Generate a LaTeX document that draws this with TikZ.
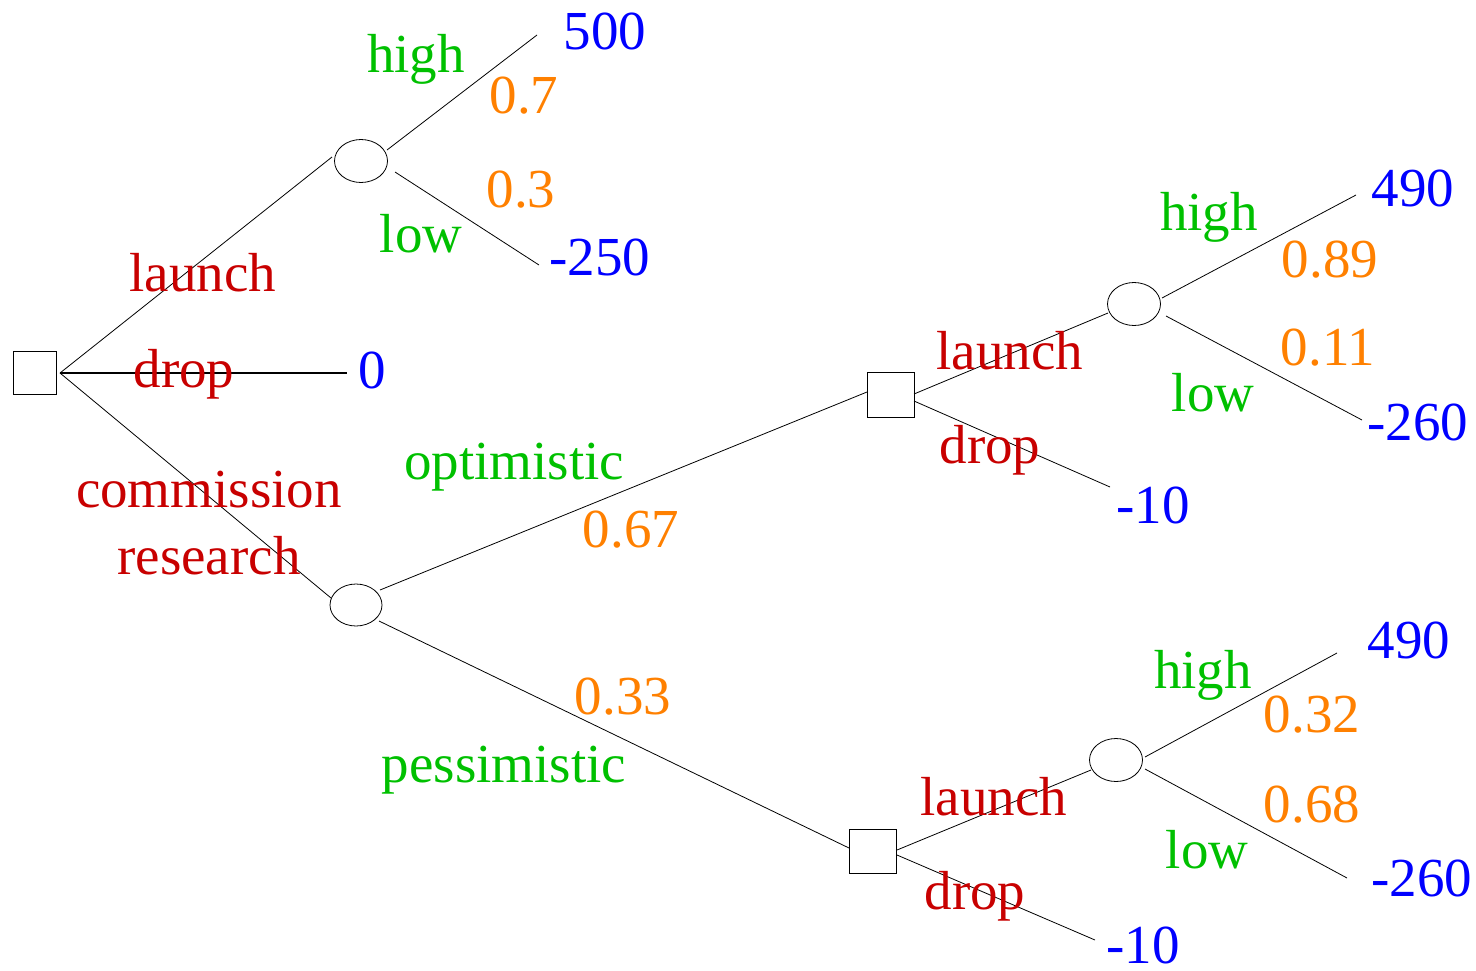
\documentclass[tikz,border=0pt]{standalone}
\usepackage{fontspec}
\setmainfont{Liberation Serif}
\usetikzlibrary{shapes.geometric}
\definecolor{dred}{RGB}{200,0,0}
\definecolor{dgreen}{RGB}{0,192,0}
\definecolor{dorange}{RGB}{255,128,0}
\definecolor{dblue}{RGB}{0,0,255}
\tikzset{
  dec/.style={draw, line width=0.8pt, minimum width=#1, minimum height=#1, inner sep=0pt, outer sep=0pt},
  chance/.style={draw, ellipse, line width=0.8pt, minimum width=53pt, minimum height=43pt, inner sep=0pt, outer sep=0pt},
  br/.style={line width=0.8pt},
  lbl/.style={font=\fontsize{55}{62}\selectfont, inner sep=0pt},
  act/.style={lbl, text=dred},
  evt/.style={lbl, text=dgreen},
  prob/.style={lbl, text=dorange},
  pay/.style={lbl, text=dblue}
}
\begin{document}
\begin{tikzpicture}[x=1pt,y=-1pt]
\useasboundingbox (0,0) rectangle (1476,970);
% shapes
\node[dec=43pt] (D0) at (35,373) {};
\node[chance] (C1) at (361,161) {};
\node[chance, minimum width=52pt, minimum height=42pt] (C2) at (356,605) {};
\node[dec=45pt, minimum width=47pt] (D1) at (891,395) {};
\node[dec=44pt, minimum width=47pt] (D2) at (873,851) {};
\node[chance] (C3) at (1134,304) {};
\node[chance] (C4) at (1116,760) {};
% connector ends
\coordinate (r0) at (60,373);
\coordinate (c1in) at (332,157);
\coordinate (c1h) at (387,150);
\coordinate (c1l) at (395,172);
\coordinate (L500) at (537,35);
\coordinate (Lm250) at (539,265);
\coordinate (L0) at (347,373);
\coordinate (c2in) at (331,598);
\coordinate (c2o) at (380,590);
\coordinate (c2p) at (379,621);
\coordinate (d1in) at (867,392);
\coordinate (d1l) at (914,394);
\coordinate (d1d) at (914,401);
\coordinate (c3in) at (1108,313);
\coordinate (c3h) at (1162,298);
\coordinate (c3l) at (1166,316);
\coordinate (L490a) at (1356,195);
\coordinate (Lm260a) at (1362,420);
\coordinate (Lm10a) at (1110,487);
\coordinate (d2in) at (849,848);
\coordinate (d2l) at (897,850);
\coordinate (d2d) at (897,855);
\coordinate (c4in) at (1091,770);
\coordinate (c4h) at (1145,757);
\coordinate (c4l) at (1145,769);
\coordinate (L490b) at (1337,653);
\coordinate (Lm260b) at (1347,878);
\coordinate (Lm10b) at (1095,940);
% branches
\draw[br] (r0) -- (c1in);
\draw[line width=2.2pt] (r0) -- (L0);
\draw[br] (r0) -- (c2in);
\draw[br] (c1h) -- (L500);
\draw[br] (c1l) -- (Lm250);
\draw[br] (c2o) -- (d1in);
\draw[br] (c2p) -- (d2in);
\draw[br] (d1l) -- (c3in);
\draw[br] (d1d) -- (Lm10a);
\draw[br] (c3h) -- (L490a);
\draw[br] (c3l) -- (Lm260a);
\draw[br] (d2l) -- (c4in);
\draw[br] (d2d) -- (Lm10b);
\draw[br] (c4h) -- (L490b);
\draw[br] (c4l) -- (Lm260b);
% labels: top
\node[act] (t1) at (203,273) {launch};
\node[act] (t2) at (184,374) {drop};
\node[pay] (t3) at (372,370) {0};
\node[act, align=center] (t4) at (209,523) {commission\\[5pt]research};
\node[evt] (t5) at (416,59) {high};
\node[prob] (t6) at (524,96) {0.7};
\node[pay] (t7) at (605,31) {500};
\node[evt] (t8) at (421,234) {low};
\node[prob] (t9) at (521,190) {0.3};
\node[pay] (t10) at (600,257) {-250};
% middle
\node[evt] (t11) at (514,467) {optimistic};
\node[prob] (t12) at (631,530) {0.67};
\node[act] (t13) at (1010,351) {launch};
\node[act] (t14) at (990,450) {drop};
\node[pay] (t15) at (1153,505) {-10};
\node[evt] (t16) at (1209,217) {high};
\node[prob] (t17) at (1330,260) {0.89};
\node[pay] (t18) at (1413,188) {490};
\node[evt] (t19) at (1213,393) {low};
\node[prob] (t20) at (1328,348) {0.11};
\node[pay] (t21) at (1418,422) {-260};
% bottom
\node[evt] (t22) at (504,770) {pessimistic};
\node[prob] (t23) at (623,697) {0.33};
\node[act] (t24) at (994,797) {launch};
\node[act] (t25) at (975,896) {drop};
\node[pay] (t26) at (1143,945) {-10};
\node[evt] (t27) at (1203,675) {high};
\node[prob] (t28) at (1312,715) {0.32};
\node[pay] (t29) at (1409,640) {490};
\node[evt] (t30) at (1207,850) {low};
\node[prob] (t31) at (1312,805) {0.68};
\node[pay] (t32) at (1422,878) {-260};
\end{tikzpicture}
\end{document}
